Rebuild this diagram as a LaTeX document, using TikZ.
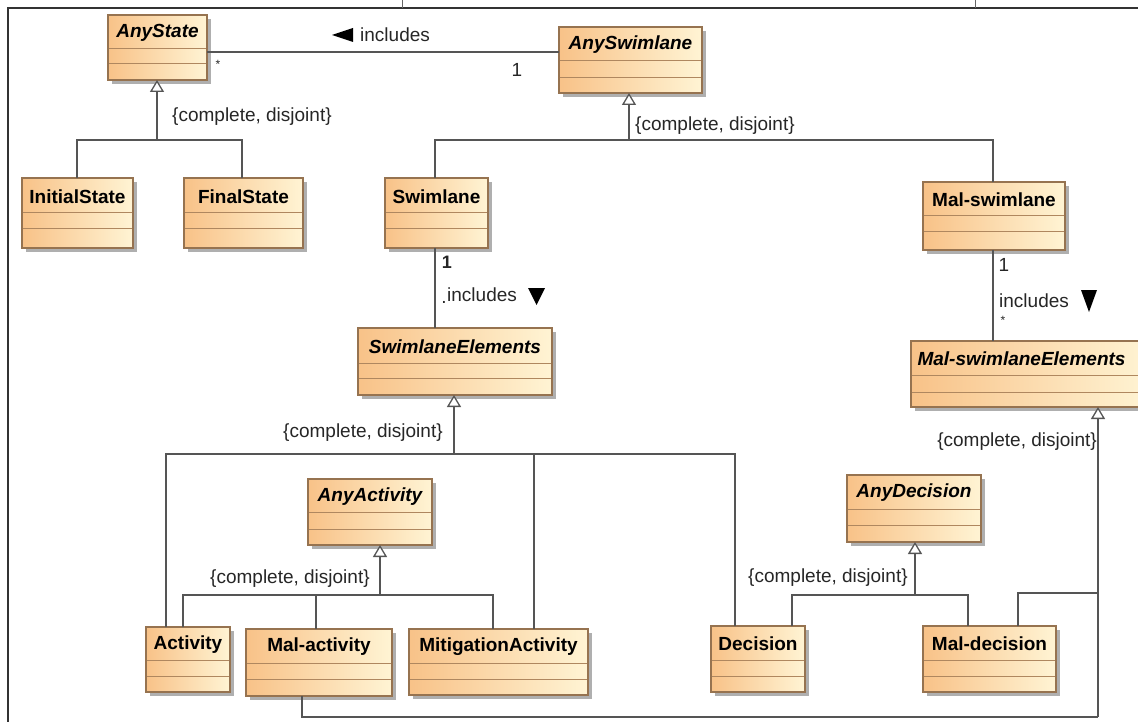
\documentclass[tikz,border=0pt]{standalone}
\usepackage{fontspec}
\setmainfont{Liberation Sans}
\usetikzlibrary{arrows.meta}
\definecolor{clsL}{RGB}{248,194,136}
\definecolor{clsR}{RGB}{255,244,212}
\definecolor{clsBorder}{RGB}{150,115,80}
\definecolor{cmpLine}{RGB}{175,135,95}
\definecolor{shadowc}{RGB}{175,175,175}
\definecolor{lineC}{RGB}{85,85,85}
\tikzset{
  clsbox/.style={draw=clsBorder, line width=1.2pt, left color=clsL, right color=clsR, inner sep=0pt, outer sep=0pt},
  cmpline/.style={draw=cmpLine, line width=1pt},
  clstext/.style={font=\fontsize{19}{22}\selectfont\bfseries, inner sep=0pt, text=black},
  abstext/.style={font=\fontsize{19}{22}\selectfont\bfseries\itshape, inner sep=0pt, text=black},
  conn/.style={draw=lineC, line width=1.3pt},
  gen/.style={conn, -{Triangle[open, length=12pt, width=14pt, fill=white]}},
  lbl/.style={font=\fontsize{19}{22}\selectfont, inner sep=0pt, text=black!85},
  tri/.style={fill=black}
}
\newcommand{\umlcls}[9]{%
  \fill[shadowc] (#2+4,#3+4) rectangle (#4+4,#5+4);
  \node[clsbox, anchor=north west, minimum width={#4pt-#2pt}, minimum height={#5pt-#3pt}] (#1) at (#2,#3) {};
  \draw[cmpline] (#2+0.6,#6) -- (#4-0.6,#6) (#2+0.6,#7) -- (#4-0.6,#7);
  \node[#9] (#1-t) at ({(#2+#4)/2},{(#3+#6)/2+1}) {#8};
}
\begin{document}
\begin{tikzpicture}[x=1pt,y=-1pt]
\useasboundingbox (0,0) rectangle (1138,722);
\clip (0,0) rectangle (1138,722);
% frame
\draw[line width=2pt, black!80] (8,722) -- (8,8) -- (1140,8);
\draw[line width=0.6pt, black!60] (402,0) -- (402,8) (975,0) -- (975,8);

% classes
\umlcls{AnyState}{108}{15}{207}{80}{49}{64}{AnyState}{abstext}
\umlcls{AnySwimlane}{559}{27}{702}{93}{61}{78}{AnySwimlane}{abstext}
\umlcls{InitialState}{22}{178}{133}{248}{213}{229}{InitialState}{clstext}
\umlcls{FinalState}{184}{178}{303}{248}{213}{229}{FinalState}{clstext}
\umlcls{Swimlane}{385}{178}{488}{248}{213}{229}{Swimlane}{clstext}
\umlcls{MalSwimlane}{923}{182}{1065}{250}{216}{232}{Mal-swimlane}{clstext}
\umlcls{SwimlaneElements}{358}{328}{552}{395}{363}{378}{SwimlaneElements}{abstext}
\umlcls{MalSwimlaneElements}{911}{341}{1150}{407}{375}{392}{\hspace*{-18pt}Mal-swimlaneElements}{abstext}
\umlcls{AnyActivity}{308}{479}{432}{545}{512}{529}{AnyActivity}{abstext}
\umlcls{AnyDecision}{847}{475}{981}{542}{509}{525}{AnyDecision}{abstext}
\umlcls{Activity}{146}{627}{230}{692}{660}{676}{Activity}{clstext}
\umlcls{MalActivity}{246}{629}{392}{696}{663}{679}{Mal-activity}{clstext}
\umlcls{MitigationActivity}{409}{629}{588}{695}{663}{679}{MitigationActivity}{clstext}
\umlcls{Decision}{711}{626}{805}{692}{660}{676}{Decision}{clstext}
\umlcls{MalDecision}{923}{626}{1056}{692}{660}{676}{Mal-decision}{clstext}

% association AnyState -- AnySwimlane
\coordinate (asc) at (380,52);
\draw[conn] (asc -| AnyState.east) -- (asc -| AnySwimlane.west);
\node[lbl, anchor=west] (incA) at (360,35) {includes};
\fill[tri] (332,35) -- (353,28) -- (353,42) -- cycle;
\node[lbl, anchor=center, font=\fontsize{12}{14}\selectfont] (mulA1) at (218,64) {*};
\node[lbl, anchor=center] (mulA2) at (517,70) {1};

% generalization AnyState
\coordinate (gAS) at (157,140);
\coordinate (bIS) at (77,140);
\coordinate (bFS) at (242,140);
\draw[gen] (gAS) -- (gAS |- AnyState.south);
\draw[conn] (bIS |- InitialState.north) -- (bIS) -- (bFS) -- (bFS |- FinalState.north);
\node[lbl, anchor=west] (cdAS) at (172,117) {\{complete, disjoint\}};

% generalization AnySwimlane
\coordinate (gSW) at (629,140);
\coordinate (bSW) at (435,140);
\coordinate (bMS) at (993,140);
\draw[gen] (gSW) -- (gSW |- AnySwimlane.south);
\draw[conn] (bSW |- Swimlane.north) -- (bSW) -- (bMS) -- (bMS |- MalSwimlane.north);
\node[lbl, anchor=west] (cdSW) at (635,126) {\{complete, disjoint\}};

% association Swimlane -- SwimlaneElements
\draw[conn] (bSW |- Swimlane.south) -- (bSW |- SwimlaneElements.north);
\node[lbl, anchor=center, font=\fontsize{18}{20}\selectfont\bfseries] (mulS1) at (447,262) {1};
\node[lbl, anchor=west] (incS) at (447,295) {includes};
\node[lbl, anchor=center] (mulS2) at (444,302) {.};
\fill[tri] (528,288) -- (545,288) -- (536.5,305) -- cycle;

% association MalSwimlane -- MalSwimlaneElements
\draw[conn] (bMS |- MalSwimlane.south) -- (bMS |- MalSwimlaneElements.north);
\node[lbl, anchor=center] (mulM1) at (1004,265) {1};
\node[lbl, anchor=west] (incM) at (999,301) {includes};
\fill[tri] (1081,290) -- (1097,290) -- (1089,312) -- cycle;
\node[lbl, anchor=center, font=\fontsize{12}{14}\selectfont] (mulM2) at (1003,320) {*};

% generalization SwimlaneElements
\coordinate (gSE) at (454,454);
\coordinate (bAc) at (166,454);
\coordinate (bMi) at (534,454);
\coordinate (bDe) at (735,454);
\draw[gen] (gSE) -- (gSE |- SwimlaneElements.south);
\draw[conn] (bAc |- Activity.north) -- (bAc) -- (bDe) -- (bDe |- Decision.north);
\draw[conn] (bMi) -- (bMi |- MitigationActivity.north);
\node[lbl, anchor=west] (cdSE) at (283,433) {\{complete, disjoint\}};

% generalization AnyActivity
\coordinate (gAA) at (380,595);
\coordinate (bA1) at (183,595);
\coordinate (bA2) at (316,595);
\coordinate (bA3) at (493,595);
\draw[gen] (gAA) -- (gAA |- AnyActivity.south);
\draw[conn] (bA1 |- Activity.north) -- (bA1) -- (bA3) -- (bA3 |- MitigationActivity.north);
\draw[conn] (bA2) -- (bA2 |- MalActivity.north);
\node[lbl, anchor=west] (cdAA) at (210,579) {\{complete, disjoint\}};

% generalization AnyDecision
\coordinate (gAD) at (915,595);
\coordinate (bD1) at (792,595);
\coordinate (bD2) at (968,595);
\draw[gen] (gAD) -- (gAD |- AnyDecision.south);
\draw[conn] (bD1 |- Decision.north) -- (bD1) -- (bD2) -- (bD2 |- MalDecision.north);
\node[lbl, anchor=west] (cdAD) at (748,578) {\{complete, disjoint\}};

% generalization MalSwimlaneElements
\coordinate (gMS) at (1098,717);
\coordinate (jMD) at (1098,593);
\coordinate (bMD) at (1018,593);
\coordinate (bMA) at (302,717);
\draw[gen] (gMS) -- (gMS |- MalSwimlaneElements.south);
\draw[conn] (bMD |- MalDecision.north) -- (bMD) -- (jMD);
\draw[conn] (bMA |- MalActivity.south) -- (bMA) -- (gMS);
\node[lbl, anchor=east] (cdMS) at (1097,442) {\{complete, disjoint\}};
\end{tikzpicture}
\end{document}
